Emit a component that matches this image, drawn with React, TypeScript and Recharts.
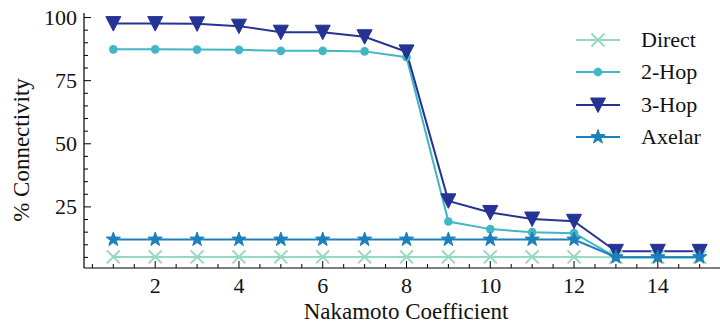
import React from "react"
import { LineChart, Line, XAxis, YAxis } from "recharts"

// Nakamoto coefficient on x, % connectivity on y
const nakamoto = [1, 2, 3, 4, 5, 6, 7, 8, 9, 10, 11, 12, 13, 14, 15]
const direct = [5.2, 5.2, 5.2, 5.2, 5.2, 5.2, 5.2, 5.2, 5.2, 5.2, 5.2, 5.2, 5.1, 5.1, 5.1]
const twoHop = [87.4, 87.4, 87.3, 87.2, 86.8, 86.8, 86.6, 84.3, 19.2, 16.2, 15.0, 14.6, 5.1, 5.1, 5.1]
const threeHop = [97.6, 97.6, 97.5, 96.6, 94.2, 94.2, 92.4, 86.4, 27.4, 22.8, 20.2, 19.3, 7.4, 7.4, 7.4]
const axelar = [12.1, 12.1, 12.1, 12.1, 12.1, 12.1, 12.1, 12.1, 12.1, 12.1, 12.1, 12.1, 5.1, 5.1, 5.1]

const xMajorTicks = [2, 4, 6, 8, 10, 12, 14]
const xTicks = [0.5, 1, 1.5, 2, 2.5, 3, 3.5, 4, 4.5, 5, 5.5, 6, 6.5, 7, 7.5, 8, 8.5, 9, 9.5, 10, 10.5, 11, 11.5, 12, 12.5, 13, 13.5, 14, 14.5, 15, 15.5]
const yMajorTicks = [25, 50, 75, 100]
const yTicks = [5, 10, 15, 20, 25, 30, 35, 40, 45, 50, 55, 60, 65, 70, 75, 80, 85, 90, 95, 100]

const FONT = "Liberation Serif, DejaVu Serif, serif"

const data = nakamoto.map((x, i) => ({
  x,
  direct: direct[i],
  twoHop: twoHop[i],
  threeHop: threeHop[i],
  axelar: axelar[i],
}))

// marker shapes, matplotlib style
const XMark = ({ cx, cy, color }: any) => (
  <g>
    <line x1={cx - 6.5} y1={cy - 6.5} x2={cx + 6.5} y2={cy + 6.5} stroke={color} strokeWidth={2} />
    <line x1={cx - 6.5} y1={cy + 6.5} x2={cx + 6.5} y2={cy - 6.5} stroke={color} strokeWidth={2} />
  </g>
)

const CircleMark = ({ cx, cy, color }: any) => <circle cx={cx} cy={cy} r={4.3} fill={color} />

const TriMark = ({ cx, cy, color }: any) => (
  <polygon
    points={`${cx - 7.5},${cy - 7} ${cx + 7.5},${cy - 7} ${cx},${cy + 7.5}`}
    fill={color}
    stroke={color}
    strokeWidth={1}
  />
)

const StarMark = ({ cx, cy, color }: any) => {
  const pts: string[] = []
  for (let k = 0; k < 10; k++) {
    const r = k % 2 === 0 ? 7.5 : 3
    const a = -Math.PI / 2 + (k * Math.PI) / 5
    pts.push(`${cx + r * Math.cos(a)},${cy + r * Math.sin(a)}`)
  }
  return <polygon points={pts.join(" ")} fill={color} stroke={color} strokeWidth={1} strokeLinejoin="round" />
}

const series = [
  { key: "direct", name: "Direct", color: "#98d9bb", Mark: XMark },
  { key: "twoHop", name: "2-Hop", color: "#41b6c4", Mark: CircleMark },
  { key: "threeHop", name: "3-Hop", color: "#253494", Mark: TriMark },
  { key: "axelar", name: "Axelar", color: "#1d80bc", Mark: StarMark },
]

const BottomTick = ({ x, y, payload }: any) => {
  const major = xMajorTicks.includes(payload.value)
  return (
    <g>
      <line x1={x} x2={x} y1={y} y2={y - (major ? 7 : 4)} stroke="#000" strokeWidth={1} />
      {major && (
        <text x={x} y={y + 25} textAnchor="middle" style={{ fontFamily: FONT }} fontSize={22} fill="#111">
          {payload.value}
        </text>
      )}
    </g>
  )
}

const TopTick = ({ x, y, payload }: any) => {
  const major = xMajorTicks.includes(payload.value)
  return <line x1={x} x2={x} y1={y} y2={y + (major ? 7 : 4)} stroke="#000" strokeWidth={1} />
}

const LeftTick = ({ x, y, payload }: any) => {
  const major = yMajorTicks.includes(payload.value)
  return (
    <g>
      <line x1={x} x2={x + (major ? 7 : 4)} y1={y} y2={y} stroke="#000" strokeWidth={1} />
      {major && (
        <text x={x - 7} y={y} dy="0.34em" textAnchor="end" style={{ fontFamily: FONT }} fontSize={22} fill="#111">
          {payload.value}
        </text>
      )}
    </g>
  )
}

export default function App() {
  return (
    <div
      style={{
        position: "fixed",
        left: 0,
        top: 0,
        width: 720,
        height: 324,
        overflow: "hidden",
        background: "#fff",
        fontFamily: FONT,
      }}
    >
      <LineChart width={740} height={324} data={data} margin={{ top: 13, right: 11, bottom: 16, left: 0 }}>
        <XAxis
          dataKey="x"
          type="number"
          domain={[0.3, 15.7]}
          allowDataOverflow
          ticks={xTicks}
          interval={0}
          tickSize={0}
          tickMargin={0}
          height={40}
          tick={<BottomTick />}
          axisLine={{ stroke: "#000", strokeWidth: 1.2 }}
          tickLine={false}
        />
        <XAxis
          xAxisId="top"
          orientation="top"
          dataKey="x"
          type="number"
          domain={[0.3, 15.7]}
          allowDataOverflow
          ticks={xTicks}
          interval={0}
          tickSize={0}
          tickMargin={0}
          height={0}
          tick={<TopTick />}
          axisLine={{ stroke: "#000", strokeWidth: 1.2 }}
          tickLine={false}
        />
        <YAxis
          type="number"
          domain={[0.8, 101.8]}
          allowDataOverflow
          ticks={yTicks}
          interval={0}
          tickSize={0}
          tickMargin={0}
          width={84}
          tick={<LeftTick />}
          axisLine={{ stroke: "#000", strokeWidth: 1.2 }}
          tickLine={false}
        />
        {series.map((s) => (
          <Line
            key={s.key}
            dataKey={s.key}
            name={s.name}
            stroke={s.color}
            strokeWidth={2}
            isAnimationActive={false}
            dot={(p: any) => <s.Mark key={`${s.key}-${p.index}`} cx={p.cx} cy={p.cy} color={s.color} />}
            activeDot={false}
          />
        ))}
      </LineChart>

      {/* legend */}
      <div style={{ position: "absolute", left: 574, top: 24, fontSize: 22, color: "#111" }}>
        {series.map((s) => (
          <div key={s.key} style={{ display: "flex", alignItems: "center", height: 32.3 }}>
            <svg width={50} height={32} style={{ display: "block" }}>
              <line x1={2} x2={46} y1={16} y2={16} stroke={s.color} strokeWidth={2} />
              <s.Mark cx={24} cy={16} color={s.color} />
            </svg>
            <span style={{ marginLeft: 17, lineHeight: "32px" }}>{s.name}</span>
          </div>
        ))}
      </div>

      {/* axis titles */}
      <div
        style={{
          position: "absolute",
          left: 406,
          top: 300,
          transform: "translateX(-50%)",
          fontSize: 23,
          whiteSpace: "nowrap",
          color: "#111",
          lineHeight: "24px",
        }}
      >
        Nakamoto Coefficient
      </div>
      <div
        style={{
          position: "absolute",
          left: 22,
          top: 150,
          transform: "translate(-50%, -50%) rotate(-90deg)",
          fontSize: 23,
          whiteSpace: "nowrap",
          color: "#111",
          lineHeight: "24px",
        }}
      >
        % Connectivity
      </div>
    </div>
  )
}
